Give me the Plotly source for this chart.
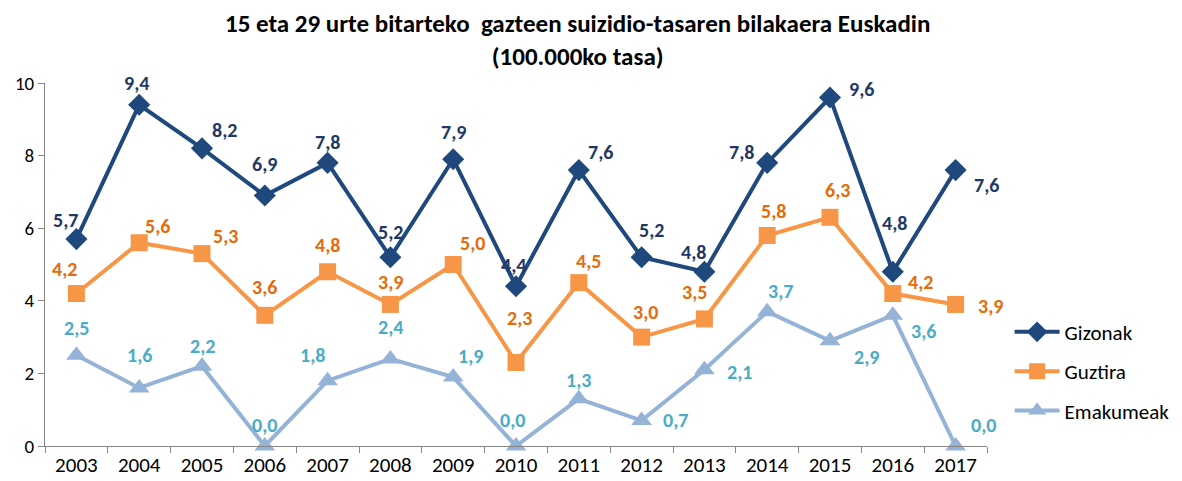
import plotly.graph_objects as go

years = ["2003", "2004", "2005", "2006", "2007", "2008", "2009", "2010",
         "2011", "2012", "2013", "2014", "2015", "2016", "2017"]
gizonak = [5.7, 9.4, 8.2, 6.9, 7.8, 5.2, 7.9, 4.4, 7.6, 5.2, 4.8, 7.8, 9.6, 4.8, 7.6]
guztira = [4.2, 5.6, 5.3, 3.6, 4.8, 3.9, 5.0, 2.3, 4.5, 3.0, 3.5, 5.8, 6.3, 4.2, 3.9]
emakumeak = [2.5, 1.6, 2.2, 0.0, 1.8, 2.4, 1.9, 0.0, 1.3, 0.7, 2.1, 3.7, 2.9, 3.6, 0.0]
y_ticks = [0, 2, 4, 6, 8, 10]

# label offsets in pixels (dx right, dy down) relative to each point
off_giz = [(-11, -19), (-3, -22), (22, -18), (0, -32), (0, -21), (0, -25), (0, -27),
           (-3, -21), (22, -18), (10, -27), (-11, -20), (-26, -11), (31, -9), (2, -49), (31, 15)]
off_guz = [(-12, -25), (18, -17), (23, -18), (0, -28), (0, -27), (0, -22), (19, -22),
           (3, -45), (10, -22), (4, -25), (-10, -27), (6, -24), (7, -27), (28, -12), (35, 2)]
off_ema = [(0, -27), (0, -33), (0, -20), (0, -21), (-15, -26), (0, -32), (17, -21),
           (-4, -26), (0, -19), (34, -1), (35, 2), (13, -21), (36, 16), (31, 16), (28, -21)]

FONT = "Carlito, Calibri, Lato, sans-serif"

def fmt(v):
    return f"{v:.1f}".replace(".", ",")

series = [
    ("Gizonak", gizonak, off_giz, "#1F497D", "#1F3864", "diamond", 17),
    ("Guztira", guztira, off_guz, "#F79646", "#E46C0A", "square", 17),
    ("Emakumeak", emakumeak, off_ema, "#95B3D7", "#4BACC6", "triangle-up", 18),
]

fig = go.Figure()
annotations = []
for name, vals, offs, lc, tc, sym, ms in series:
    fig.add_trace(go.Scatter(
        x=years, y=vals, name=name, mode="lines+markers",
        line=dict(color=lc, width=4),
        marker=dict(symbol=sym, size=ms, color=lc),
        legendgroup=name, cliponaxis=False))
    for idx, (v, (dx, dy)) in enumerate(zip(vals, offs)):
        annotations.append(dict(
            x=idx, y=v, xref="x", yref="y", text=f"<b>{fmt(v)}</b>",
            showarrow=False, xanchor="center", yanchor="middle",
            xshift=dx, yshift=-dy,
            font=dict(family=FONT, size=20, color=tc)))

annotations.append(dict(
    text="<b>15 eta 29 urte bitarteko  gazteen suizidio-tasaren bilakaera Euskadin<br>(100.000ko tasa)</b>",
    xref="paper", yref="paper", x=0.565, y=1 + 77 / 363,
    xanchor="center", yanchor="top", showarrow=False,
    font=dict(family=FONT, size=25, color="#000000")))

fig.update_layout(
    width=1182, height=481,
    margin=dict(l=37, r=203, t=75, b=43, autoexpand=False),
    paper_bgcolor="white", plot_bgcolor="white",
    font=dict(family=FONT, size=18, color="#000000"),
    legend=dict(x=1.024, y=0.37, xanchor="left", yanchor="top",
                font=dict(family=FONT, size=21, color="#000000"),
                tracegroupgap=9, itemwidth=45),
    showlegend=True,
    annotations=annotations,
)
fig.update_xaxes(type="category", range=[-0.5, 14.5], autorange=False,
                 showline=True, linecolor="#868686", linewidth=1,
                 ticks="outside", tickson="boundaries", ticklen=6, tickcolor="#868686",
                 showgrid=False, tickfont=dict(size=21, color="#000000"), zeroline=False,
                 automargin=False)
fig.update_yaxes(range=[0, 10], autorange=False, tickvals=y_ticks, showline=True,
                 linecolor="#868686", linewidth=1, ticks="outside", ticklen=6,
                 tickcolor="#868686", showgrid=False, zeroline=False,
                 tickfont=dict(size=19, color="#000000"), automargin=False)

fig.write_html("out.html")
